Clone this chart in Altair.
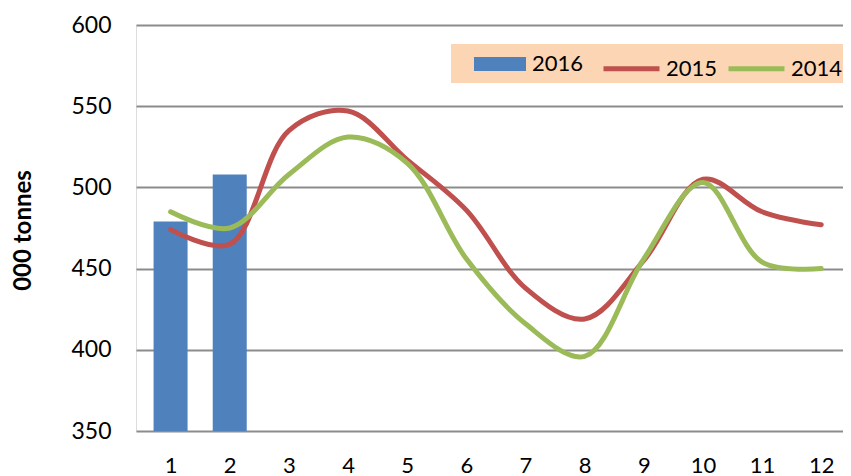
import altair as alt
import pandas as pd

months = list(range(1, 13))
v2016 = [479, 508]
v2015 = [474, 465, 535, 547, 517, 486, 438, 419, 455, 505, 485, 477]
v2014 = [485, 475, 508, 531, 515, 456, 416, 396, 456, 503, 454, 450]
bar_years = ["2016"]
bar_colors = ["#4F81BD"]
line_years = ["2015", "2014"]
line_colors = ["#C0504D", "#9BBB59"]

bars = pd.DataFrame({"month": months[:2], "value": v2016, "bar_year": "2016"})
lines = pd.DataFrame(
    {"month": months * 2, "value": v2015 + v2014, "line_year": ["2015"] * 12 + ["2014"] * 12}
)

FONT = "Lato"

xscale = alt.Scale(domain=[0.5, 12.283], nice=False, zero=False)
yscale = alt.Scale(domain=[350, 600], nice=False, zero=False)

common_legend = dict(
    orient="none",
    direction="horizontal",
    title=None,
    padding=0,
    labelFont=FONT,
    labelFontSize=22,
    labelColor="black",
    symbolOpacity=1,
)

fill = alt.Fill(
    "bar_year:N",
    scale=alt.Scale(domain=bar_years, range=bar_colors),
    legend=alt.Legend(
        legendX=338,
        legendY=13,
        labelOffset=6,
        symbolType="M-1,-0.27H1V0.27H-1Z",
        symbolSize=2704,
        symbolStrokeWidth=0,
        **common_legend,
    ),
)

stroke = alt.Stroke(
    "line_year:N",
    scale=alt.Scale(domain=line_years, range=line_colors),
    legend=alt.Legend(
        legendX=465,
        legendY=13,
        columns=2,
        columnPadding=0,
        labelOffset=4,
        symbolType="M-1,0H1",
        symbolSize=3136,
        symbolStrokeWidth=5,
        **common_legend,
    ),
)

xaxis = alt.Axis(
    values=months,
    grid=False,
    domain=False,
    ticks=False,
    title=None,
    labelFont="'Liberation Sans Narrow', Lato",
    labelFontSize=22,
    labelColor="black",
    labelPadding=24,
    format="d",
)
yaxis = alt.Axis(
    values=[350, 400, 450, 500, 550, 600],
    grid=True,
    gridColor="#8C8C8C",
    gridWidth=2,
    domain=False,
    ticks=False,
    labelFont=FONT,
    labelFontSize=23,
    labelColor="black",
    labelPadding=25,
    title="000 tonnes",
    titleFont=FONT,
    titleFontSize=24,
    titleFontWeight="bold",
    titleColor="black",
    titleAngle=270,
    titleX=-106,
    titleY=205,
    titleAlign="center",
    titleBaseline="alphabetic",
)

legend_bg = alt.Chart(pd.DataFrame({"k": [0]})).mark_rect(color="#FCD5B4").encode(
    x=alt.value(315), x2=alt.value(720), y=alt.value(19), y2=alt.value(58)
)

bar = alt.Chart(bars).mark_bar(size=34, clip=True).encode(
    x=alt.X("month:Q", scale=xscale, axis=xaxis),
    y=alt.Y("value:Q", scale=yscale, axis=yaxis),
    fill=fill,
)

line = alt.Chart(lines).mark_line(strokeWidth=5, interpolate="catmull-rom", strokeCap="round").encode(
    x=alt.X("month:Q", scale=xscale),
    y=alt.Y("value:Q", scale=yscale),
    stroke=stroke,
)

chart = (
    alt.layer(legend_bg, bar, line)
    .properties(
        width=707,
        height=406,
        autosize=alt.AutoSizeParams(type="none"),
        padding={"left": 128, "top": 17, "right": 0, "bottom": 45},
    )
    .configure_view(stroke=None)
    .configure(background="white")
)

chart.save("out.html", embed_options={"renderer": "svg", "actions": False})
